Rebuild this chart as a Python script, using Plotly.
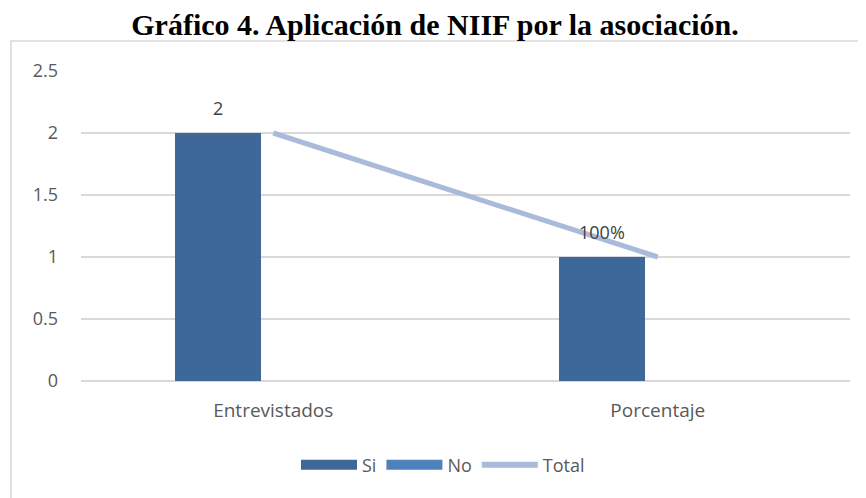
import plotly.graph_objects as go

categories = ["Entrevistados", "Porcentaje"]
si_values = [2, 1]
si_labels = ["2", "100%"]
no_values = [0, 0]
total_values = [2, 1]

# page is rendered with an 8px body margin; size the figure so it fits the window
OFF = 8
W, H = 866 - OFF, 498 - OFF
plot_l, plot_r, plot_t, plot_b = 81, 850, 71, 381  # page pixels
L, T = plot_l - OFF, plot_t - OFF
R, B = W - (plot_r - OFF), H - (plot_b - OFF)
pw, ph = plot_r - plot_l, plot_b - plot_t

SI_COLOR = "#3E6899"
NO_COLOR = "#4F81BD"
TOT_COLOR = "#A9BADB"
TXT = "#595959"
FONT = "Open Sans, sans-serif"

bar_w, bar_off = 0.224, -0.256
fig = go.Figure()
fig.add_trace(go.Bar(
    x=categories, y=si_values, name="Si", showlegend=False,
    marker=dict(color=SI_COLOR, line=dict(width=0)),
    width=bar_w, offset=bar_off,
))
fig.add_trace(go.Bar(
    x=categories, y=no_values, name="No", showlegend=False,
    marker=dict(color=NO_COLOR, line=dict(width=0)),
    width=bar_w, offset=0.03,
))
fig.add_trace(go.Scatter(
    x=categories, y=total_values, name="Total", mode="lines", showlegend=False,
    line=dict(color=TOT_COLOR, width=5),
))
# legend entries (wide swatches like the original)
for name, col, lw in [("Si", SI_COLOR, 14), ("No", NO_COLOR, 14), ("Total", TOT_COLOR, 6)]:
    fig.add_trace(go.Scatter(x=[None], y=[None], mode="lines", name=name,
                             line=dict(color=col, width=lw)))

annotations = []
xshift = (bar_off + bar_w / 2) * (pw / 2)
for c, v, lab in zip(categories, si_values, si_labels):
    annotations.append(dict(
        x=c, y=v, text=lab, showarrow=False, xshift=xshift, yshift=25,
        xanchor="center", yanchor="middle",
        font=dict(family=FONT, size=18, color="#404040"),
    ))

fig.update_layout(
    width=W, height=H,
    margin=dict(l=L, r=R, t=T, b=B),
    paper_bgcolor="white", plot_bgcolor="white",
    title=dict(
        text="<b>Gráfico 4. Aplicación de NIIF por la asociación.</b>",
        x=(435 - OFF) / W, xref="container", xanchor="center",
        y=1 - (24 - OFF) / H, yref="container", yanchor="middle",
        font=dict(family="Liberation Serif, Times New Roman, serif", size=30, color="black"),
    ),
    font=dict(family=FONT, size=18, color=TXT),
    xaxis=dict(
        type="category", range=[-0.5, 1.5],
        showgrid=False, showline=False, ticks="", ticklabelstandoff=16,
        tickfont=dict(family=FONT, size=19, color=TXT),
    ),
    yaxis=dict(
        range=[0, 2.5], dtick=0.5,
        showgrid=True, gridcolor="#D9D9D9", gridwidth=1.5,
        zeroline=True, zerolinecolor="#D9D9D9", zerolinewidth=1.5,
        showline=False, ticks="", ticklabelstandoff=22,
        tickfont=dict(family=FONT, size=18, color=TXT),
    ),
    showlegend=True,
    legend=dict(
        orientation="h", x=(443 - plot_l) / pw, xanchor="center",
        y=-(465 - plot_b) / ph, yanchor="middle",
        font=dict(family=FONT, size=18, color=TXT), itemwidth=56, traceorder="normal",
    ),
    bargap=0, barmode="overlay",
    annotations=annotations,
    shapes=[dict(
        type="rect", xref="paper", yref="paper",
        x0=(11 - plot_l) / pw, x1=1.05, y0=-(510 - plot_b) / ph, y1=1 + (plot_t - 41) / ph,
        line=dict(color="#D9D9D9", width=1.5), fillcolor="rgba(0,0,0,0)", layer="below",
    )],
)

fig.write_html("out.html")
